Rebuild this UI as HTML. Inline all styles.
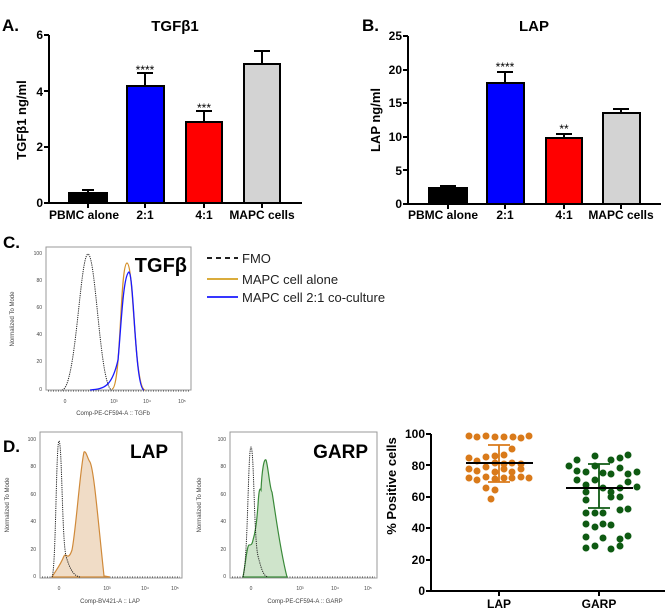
<!DOCTYPE html>
<html><head><meta charset="utf-8"><style>
html,body{margin:0;padding:0;background:#fff;}
svg{display:block;font-family:"Liberation Sans",sans-serif;}
</style></head><body>
<svg width="668" height="610" viewBox="0 0 668 610" xmlns="http://www.w3.org/2000/svg">
<!-- Panel A -->
<text x="2" y="31" font-size="17" font-weight="bold">A.</text>
<text x="175" y="31" font-size="15" font-weight="bold" text-anchor="middle">TGFβ1</text>
<g font-size="12" font-weight="bold" text-anchor="end">
<text x="43" y="39">6</text><text x="43" y="96">4</text><text x="43" y="151">2</text><text x="43" y="207">0</text></g>
<text transform="translate(26,120) rotate(-90)" font-size="13" font-weight="bold" text-anchor="middle">TGFβ1 ng/ml</text>
<g stroke="#000" stroke-width="2">
<line x1="49" y1="35" x2="49" y2="203"/><line x1="44" y1="35" x2="49" y2="35"/><line x1="44" y1="91" x2="49" y2="91"/><line x1="44" y1="147" x2="49" y2="147"/><line x1="44" y1="203" x2="302" y2="203"/>
<line x1="88" y1="190" x2="88" y2="203"/><line x1="82" y1="190" x2="94" y2="190"/>
<line x1="145" y1="73" x2="145" y2="86"/><line x1="137" y1="73" x2="153" y2="73"/>
<line x1="204" y1="111" x2="204" y2="122"/><line x1="196" y1="111" x2="212" y2="111"/>
<line x1="262" y1="51" x2="262" y2="64"/><line x1="254" y1="51" x2="270" y2="51"/>
<rect x="69" y="193" width="38" height="10" fill="#000"/>
<rect x="127" y="86" width="37" height="117" fill="#0000ff"/>
<rect x="186" y="122" width="36" height="81" fill="#ff0000"/>
<rect x="244" y="64" width="36" height="139" fill="#d3d3d3"/>
<line x1="88" y1="203" x2="88" y2="208"/><line x1="145" y1="203" x2="145" y2="208"/><line x1="204" y1="203" x2="204" y2="208"/><line x1="262" y1="203" x2="262" y2="208"/>
</g>
<g font-size="12" font-weight="bold" text-anchor="middle">
<text x="84" y="219">PBMC alone</text><text x="145" y="219">2:1</text><text x="204" y="219">4:1</text><text x="262" y="219">MAPC cells</text></g>
<g font-size="12" text-anchor="middle"><text x="145" y="74">****</text><text x="204" y="112">***</text></g>

<!-- Panel B -->
<text x="362" y="31" font-size="17" font-weight="bold">B.</text>
<text x="534" y="31" font-size="15" font-weight="bold" text-anchor="middle">LAP</text>
<g font-size="12" font-weight="bold" text-anchor="end">
<text x="402" y="40">25</text><text x="402" y="74">20</text><text x="402" y="107">15</text><text x="402" y="141">10</text><text x="402" y="175">5</text><text x="402" y="208">0</text></g>
<text transform="translate(380,120) rotate(-90)" font-size="13" font-weight="bold" text-anchor="middle">LAP ng/ml</text>
<g stroke="#000" stroke-width="2">
<line x1="408" y1="36" x2="408" y2="204"/>
<line x1="403" y1="36" x2="408" y2="36"/><line x1="403" y1="70" x2="408" y2="70"/><line x1="403" y1="103" x2="408" y2="103"/><line x1="403" y1="137" x2="408" y2="137"/><line x1="403" y1="170" x2="408" y2="170"/>
<line x1="403" y1="204" x2="661" y2="204"/>
<line x1="448" y1="186" x2="448" y2="188"/><line x1="440" y1="186" x2="456" y2="186"/>
<line x1="505" y1="72" x2="505" y2="83"/><line x1="497" y1="72" x2="513" y2="72"/>
<line x1="564" y1="134" x2="564" y2="138"/><line x1="556" y1="134" x2="572" y2="134"/>
<line x1="621" y1="109" x2="621" y2="113"/><line x1="613" y1="109" x2="629" y2="109"/>
<rect x="429" y="188" width="38" height="16" fill="#000"/>
<rect x="487" y="83" width="37" height="121" fill="#0000ff"/>
<rect x="546" y="138" width="36" height="66" fill="#ff0000"/>
<rect x="603" y="113" width="37" height="91" fill="#d3d3d3"/>
<line x1="448" y1="204" x2="448" y2="209"/><line x1="505" y1="204" x2="505" y2="209"/><line x1="564" y1="204" x2="564" y2="209"/><line x1="621" y1="204" x2="621" y2="209"/>
</g>
<g font-size="12" font-weight="bold" text-anchor="middle">
<text x="443" y="219">PBMC alone</text><text x="505" y="219">2:1</text><text x="564" y="219">4:1</text><text x="621" y="219">MAPC cells</text></g>
<g font-size="12" text-anchor="middle"><text x="505" y="71">****</text><text x="564" y="133">**</text></g>

<!-- Panel C -->
<text x="3" y="248" font-size="17" font-weight="bold">C.</text>
<rect x="46" y="247" width="145" height="143" fill="none" stroke="#999" stroke-width="1"/>
<g font-size="5" fill="#444" text-anchor="end">
<text x="42" y="255">100</text><text x="42" y="282">80</text><text x="42" y="309">60</text><text x="42" y="336">40</text><text x="42" y="363">20</text><text x="42" y="391">0</text></g>
<text transform="translate(14,319) rotate(-90)" font-size="6" fill="#444" text-anchor="middle">Normalized To Mode</text>
<g font-size="5" fill="#444" text-anchor="middle">
<text x="65" y="403">0</text><text x="114" y="403">10³</text><text x="147" y="403">10⁴</text><text x="182" y="403">10⁵</text></g>
<text x="113" y="415" font-size="6" fill="#444" text-anchor="middle">Comp-PE-CF594-A :: TGFb</text>
<line x1="48" y1="391" x2="190" y2="391" stroke="#444" stroke-width="1" stroke-dasharray="1,1.5"/>
<path d="M62 390 C76 389 80 255 88 254 C96 255 100 389 112 390" fill="none" stroke="#222" stroke-width="1" stroke-dasharray="1.2,1"/>
<path d="M112 389 C121 389 120 264 127 263 C134 264 134 389 145 390" fill="none" stroke="#d4902a" stroke-width="1.3"/>
<path d="M90 390 C105 389 112 386 118 360 C121 330 123 275 129 272 C134 276 135 389 144 390" fill="none" stroke="#1a1aff" stroke-width="1.3"/>
<text x="187" y="272" font-size="20" font-weight="bold" text-anchor="end">TGFβ</text>
<line x1="207" y1="258" x2="238" y2="258" stroke="#000" stroke-width="1.8" stroke-dasharray="5,4"/>
<line x1="207" y1="279" x2="238" y2="279" stroke="#d4a020" stroke-width="1.8"/>
<line x1="207" y1="297" x2="238" y2="297" stroke="#1a1aff" stroke-width="1.8"/>
<g font-size="13" fill="#222"><text x="242" y="263">FMO</text><text x="242" y="284">MAPC cell alone</text><text x="242" y="302">MAPC cell 2:1 co-culture</text></g>

<!-- Panel D LAP hist -->
<text x="3" y="452" font-size="17" font-weight="bold">D.</text>
<rect x="40" y="432" width="142" height="146" fill="none" stroke="#999" stroke-width="1"/>
<g font-size="5" fill="#444" text-anchor="end">
<text x="36" y="441">100</text><text x="36" y="468">80</text><text x="36" y="496">60</text><text x="36" y="523">40</text><text x="36" y="551">20</text><text x="36" y="578">0</text></g>
<text transform="translate(9,505) rotate(-90)" font-size="6" fill="#444" text-anchor="middle">Normalized To Mode</text>
<g font-size="5" fill="#444" text-anchor="middle"><text x="59" y="590">0</text><text x="107" y="590">10³</text><text x="145" y="590">10⁴</text><text x="175" y="590">10⁵</text></g>
<text x="110" y="603" font-size="6" fill="#444" text-anchor="middle">Comp-BV421-A :: LAP</text>
<line x1="42" y1="577" x2="180" y2="577" stroke="#444" stroke-width="1" stroke-dasharray="1,1.5"/>
<path d="M52 577 C56 570 60 566 64 556 C66 552 68 562 72 550 C76 530 80 470 84 452 C86 450 88 460 90 462 C94 470 98 520 104 576 L110 577 Z" fill="#f0dcc6" stroke="#d08a3a" stroke-width="1.2"/>
<path d="M52 577 C56 570 56 442 59 441 C62 442 62 540 66 556 C70 570 74 576 80 577" fill="none" stroke="#222" stroke-width="1" stroke-dasharray="1.2,1"/>
<text x="168" y="458" font-size="19" font-weight="bold" text-anchor="end">LAP</text>

<!-- GARP hist -->
<rect x="230" y="432" width="147" height="146" fill="none" stroke="#999" stroke-width="1"/>
<g font-size="5" fill="#444" text-anchor="end">
<text x="226" y="441">100</text><text x="226" y="468">80</text><text x="226" y="496">60</text><text x="226" y="523">40</text><text x="226" y="551">20</text><text x="226" y="578">0</text></g>
<text transform="translate(201,505) rotate(-90)" font-size="6" fill="#444" text-anchor="middle">Normalized To Mode</text>
<g font-size="5" fill="#444" text-anchor="middle"><text x="251" y="590">0</text><text x="300" y="590">10³</text><text x="335" y="590">10⁴</text><text x="368" y="590">10⁵</text></g>
<text x="305" y="603" font-size="6" fill="#444" text-anchor="middle">Comp-PE-CF594-A :: GARP</text>
<line x1="232" y1="577" x2="375" y2="577" stroke="#444" stroke-width="1" stroke-dasharray="1,1.5"/>
<path d="M243 577 C246 560 247 546 249 545 C251 545 252 545 253 540 C256 530 257 518 258 505 C259 488 260 488 261 490 C262 470 264 458 266 460 C268 465 270 490 272 492 C275 510 280 550 287 577 Z" fill="#cfe4cb" stroke="#3a8a3a" stroke-width="1.2"/>
<path d="M243 577 C248 560 248 448 251 447 C254 448 254 540 258 556 C262 572 264 576 268 577" fill="none" stroke="#222" stroke-width="1" stroke-dasharray="1.2,1"/>
<text x="368" y="458" font-size="19" font-weight="bold" text-anchor="end">GARP</text>

<!-- Scatter -->
<text transform="translate(396,486) rotate(-90)" font-size="13" font-weight="bold" text-anchor="middle">% Positive cells</text>
<g font-size="12" font-weight="bold" text-anchor="end">
<text x="425" y="438">100</text><text x="425" y="470">80</text><text x="425" y="501">60</text><text x="425" y="532">40</text><text x="425" y="564">20</text><text x="425" y="595">0</text></g>
<g stroke="#000" stroke-width="2">
<line x1="431" y1="434" x2="431" y2="591"/>
<line x1="426" y1="434" x2="431" y2="434"/><line x1="426" y1="465" x2="431" y2="465"/><line x1="426" y1="497" x2="431" y2="497"/><line x1="426" y1="528" x2="431" y2="528"/><line x1="426" y1="560" x2="431" y2="560"/>
<line x1="426" y1="591" x2="665" y2="591"/>
<line x1="499" y1="591" x2="499" y2="596"/><line x1="599" y1="591" x2="599" y2="596"/>
</g>
<g fill="#d97a1a">
<circle cx="469" cy="436" r="3.5"/><circle cx="477" cy="437" r="3.5"/><circle cx="486" cy="436" r="3.5"/><circle cx="495" cy="437" r="3.5"/><circle cx="504" cy="437" r="3.5"/><circle cx="513" cy="437" r="3.5"/><circle cx="521" cy="438" r="3.5"/><circle cx="529" cy="436" r="3.5"/>
<circle cx="512" cy="449" r="3.5"/>
<circle cx="469" cy="458" r="3.5"/><circle cx="477" cy="461" r="3.5"/><circle cx="486" cy="457" r="3.5"/><circle cx="495" cy="456" r="3.5"/><circle cx="504" cy="455" r="3.5"/>
<circle cx="486" cy="467" r="3.5"/><circle cx="495" cy="463" r="3.5"/><circle cx="504" cy="464" r="3.5"/><circle cx="512" cy="463" r="3.5"/><circle cx="521" cy="464" r="3.5"/>
<circle cx="469" cy="469" r="3.5"/><circle cx="477" cy="471" r="3.5"/><circle cx="495" cy="472" r="3.5"/><circle cx="504" cy="469" r="3.5"/><circle cx="512" cy="472" r="3.5"/><circle cx="521" cy="469" r="3.5"/>
<circle cx="469" cy="478" r="3.5"/><circle cx="477" cy="480" r="3.5"/><circle cx="486" cy="477" r="3.5"/><circle cx="495" cy="479" r="3.5"/><circle cx="504" cy="478" r="3.5"/><circle cx="512" cy="478" r="3.5"/><circle cx="521" cy="477" r="3.5"/><circle cx="529" cy="478" r="3.5"/>
<circle cx="486" cy="488" r="3.5"/><circle cx="495" cy="490" r="3.5"/><circle cx="491" cy="499" r="3.5"/>
</g>
<g stroke="#d97a1a" stroke-width="1.8"><line x1="499" y1="445" x2="499" y2="482"/><line x1="488" y1="445" x2="510" y2="445"/><line x1="488" y1="482" x2="510" y2="482"/></g>
<line x1="466" y1="463" x2="533" y2="463" stroke="#000" stroke-width="2"/>
<g fill="#0e5a12">
<circle cx="569" cy="466" r="3.5"/><circle cx="577" cy="460" r="3.5"/><circle cx="586" cy="472" r="3.5"/><circle cx="595" cy="466" r="3.5"/><circle cx="595" cy="456" r="3.5"/><circle cx="603" cy="473" r="3.5"/><circle cx="611" cy="460" r="3.5"/><circle cx="620" cy="458" r="3.5"/><circle cx="628" cy="455" r="3.5"/><circle cx="620" cy="468" r="3.5"/><circle cx="637" cy="472" r="3.5"/>
<circle cx="577" cy="471" r="3.5"/><circle cx="577" cy="480" r="3.5"/><circle cx="586" cy="485" r="3.5"/><circle cx="595" cy="480" r="3.5"/><circle cx="611" cy="474" r="3.5"/><circle cx="628" cy="474" r="3.5"/><circle cx="628" cy="482" r="3.5"/><circle cx="637" cy="487" r="3.5"/>
<circle cx="586" cy="492" r="3.5"/><circle cx="603" cy="488" r="3.5"/><circle cx="611" cy="492" r="3.5"/><circle cx="620" cy="488" r="3.5"/>
<circle cx="586" cy="500" r="3.5"/><circle cx="611" cy="497" r="3.5"/><circle cx="620" cy="497" r="3.5"/><circle cx="586" cy="513" r="3.5"/><circle cx="595" cy="513" r="3.5"/><circle cx="603" cy="513" r="3.5"/><circle cx="620" cy="510" r="3.5"/><circle cx="628" cy="509" r="3.5"/>
<circle cx="586" cy="524" r="3.5"/><circle cx="603" cy="524" r="3.5"/><circle cx="611" cy="525" r="3.5"/><circle cx="595" cy="527" r="3.5"/><circle cx="586" cy="537" r="3.5"/><circle cx="603" cy="538" r="3.5"/><circle cx="620" cy="539" r="3.5"/><circle cx="628" cy="536" r="3.5"/><circle cx="586" cy="548" r="3.5"/><circle cx="611" cy="549" r="3.5"/><circle cx="595" cy="546" r="3.5"/><circle cx="620" cy="546" r="3.5"/>
</g>
<g stroke="#0e5a12" stroke-width="1.8"><line x1="599" y1="464" x2="599" y2="508"/><line x1="588" y1="464" x2="610" y2="464"/><line x1="588" y1="508" x2="610" y2="508"/></g>
<line x1="566" y1="488" x2="633" y2="488" stroke="#000" stroke-width="2"/>
<g font-size="12" font-weight="bold" text-anchor="middle"><text x="499" y="608">LAP</text><text x="599" y="608">GARP</text></g>
</svg>
</body></html>
